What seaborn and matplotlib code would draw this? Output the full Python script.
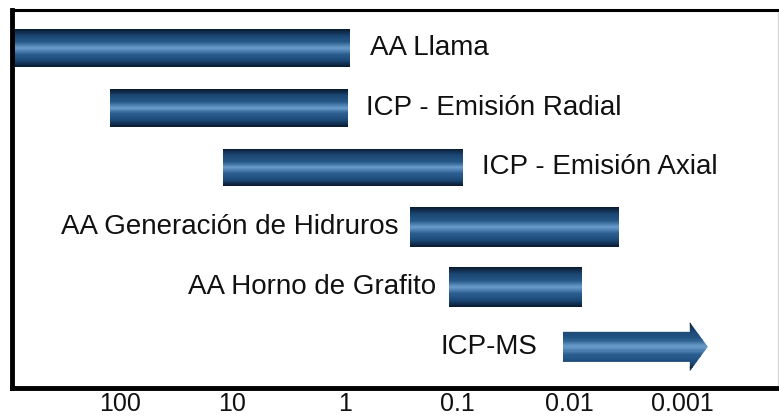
import numpy as np
import pandas as pd
import matplotlib.pyplot as plt
from matplotlib.patches import Polygon
import seaborn as sns

sns.set_style("white")
plt.rcParams["font.family"] = ["Liberation Sans", "DejaVu Sans"]

# Detection ranges per technique (concentration, decreasing to the right)
techniques = ["AA Llama", "ICP - Emisión Radial", "ICP - Emisión Axial",
              "AA Generación de Hidruros", "AA Horno de Grafito", "ICP-MS"]
range_high = [1000, 123, 12.1, 0.263, 0.118, 0.0115]
range_low = [0.9, 0.93, 0.089, 0.0036, 0.0078, 0.00059]
label_side = ["right", "right", "right", "left", "left", "left"]
open_ended = [False, False, False, False, False, True]

tick_values = [100, 10, 1, 0.1, 0.01, 0.001]
tick_labels = ["100", "10", "1", "0.1", "0.01", "0.001"]

df = pd.DataFrame({"technique": techniques, "high": range_high, "low": range_low,
                   "side": label_side, "arrow": open_ended})
df["row"] = np.arange(len(df))

# styling
bar_height = [0.63, 0.63, 0.63, 0.67, 0.68, 0.5]
head_height = 0.82
label_gap_px = [20, 18, 19, 12, 13, 25]
n_strips = 40
cyl = sns.blend_palette(["#0a1d33", "#1b4673", "#255786", "#6a9dcc",
                         "#2b5e90", "#1c4a78", "#0a1d33"], n_strips)

fig = plt.figure(figsize=(7.79, 4.2), dpi=100)
ax = fig.add_axes([12 / 779, 32 / 420, 766 / 779, 378 / 420])
ax.set_xscale("log")
ax.set_xlim(914, 0.00014)
ax.set_ylim(5.69, -0.635)

for _, r in df.iterrows():
    i = r["row"]
    h = bar_height[i]
    clip = None
    if r["arrow"]:
        head_start = r["low"] * 10 ** 0.16
        hb, hh = h / 2, head_height / 2
        verts = [(r["high"], i - hb), (head_start, i - hb), (head_start, i - hh),
                 (r["low"], i), (head_start, i + hh), (head_start, i + hb),
                 (r["high"], i + hb)]
        clip = Polygon(verts, closed=True, facecolor="none", edgecolor="none")
        ax.add_patch(clip)
        h = head_height
    # stacked thin strips give the cylinder shading
    for k in range(n_strips):
        y0 = i - h / 2 + (k + 0.5) * h / n_strips
        bars = ax.barh(y0, r["low"] - r["high"], left=r["high"],
                       height=h / n_strips * 1.15, color=cyl[k], edgecolor="none")
        if clip is not None:
            for b in bars:
                b.set_clip_path(clip)

    gap = label_gap_px[i] * 0.72
    if r["side"] == "right":
        ax.annotate(r["technique"], xy=(r["low"], i), xytext=(gap, 0),
                    textcoords="offset points", ha="left", va="center",
                    fontsize=20, color="#111111")
    else:
        ax.annotate(r["technique"], xy=(r["high"], i), xytext=(-gap, 0),
                    textcoords="offset points", ha="right", va="center",
                    fontsize=20, color="#111111")

ax.set_xticks(tick_values, tick_labels)
ax.minorticks_off()
ax.set_yticks([])
ax.tick_params(axis="x", direction="in", length=9.5, width=2.2, pad=3,
               labelsize=18, colors="#111111")

for side, w in [("left", 3.5), ("top", 2.2), ("bottom", 3.5)]:
    ax.spines[side].set_linewidth(w)
    ax.spines[side].set_color("black")
ax.spines["right"].set_linewidth(1)
ax.spines["right"].set_color("#d8d8d8")

fig.savefig("out.png", dpi=100)
